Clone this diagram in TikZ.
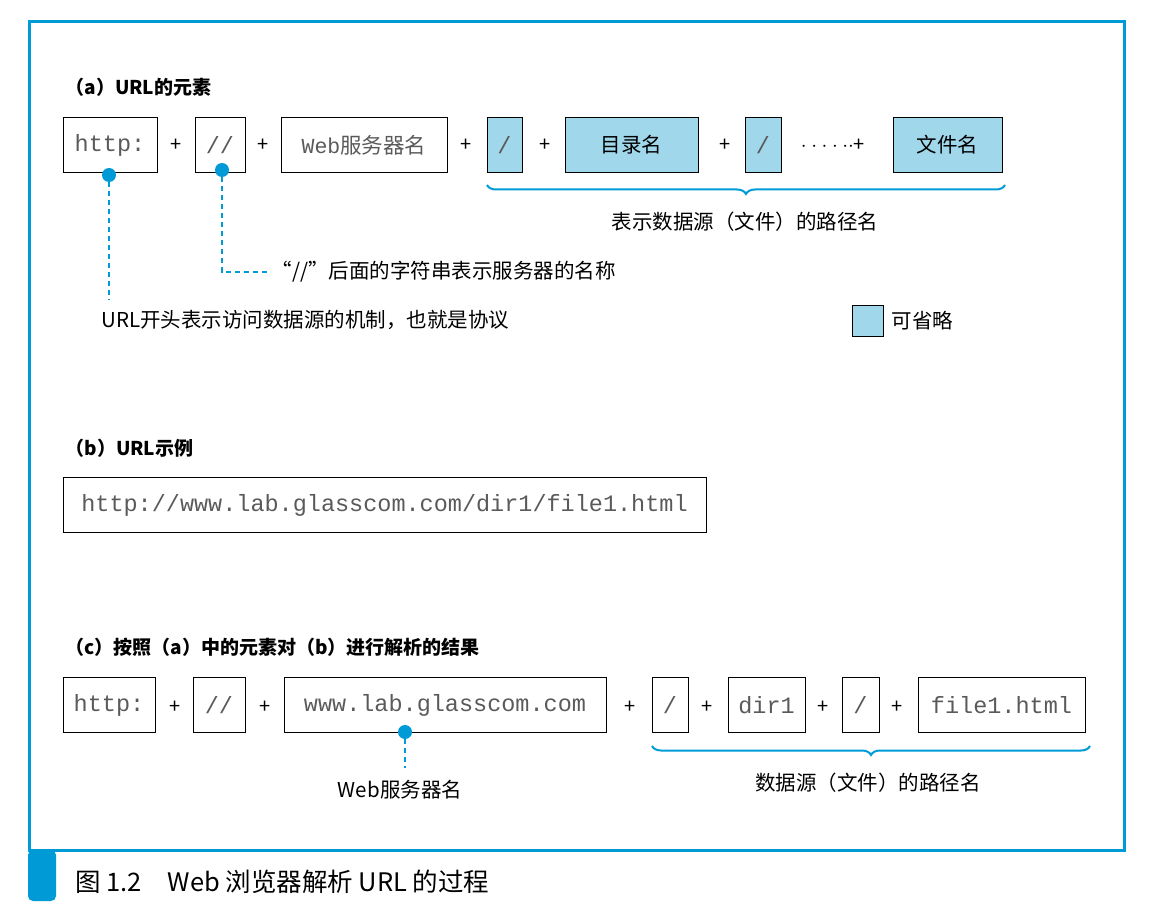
\documentclass[tikz,border=0pt]{standalone}
\usepackage{fontspec}
\setmainfont{Noto Sans CJK SC}
\setmonofont{Liberation Mono}
\usetikzlibrary{positioning,decorations.pathreplacing}
\definecolor{frameblue}{RGB}{0,155,215}
\definecolor{optfill}{RGB}{160,215,235}
\definecolor{monogray}{RGB}{90,90,90}
\tikzset{
  box/.style={draw, thick, inner sep=0pt, minimum height=55pt,
    font=\fontsize{23.5}{23.5}\selectfont\ttfamily\color{monogray}},
  opt/.style={box, fill=optfill},
  cjk/.style={font=\fontsize{20.5}{20.5}\selectfont},
  plus/.style={font=\fontsize{20}{20}\selectfont},
  title/.style={font=\fontsize{19}{19}\selectfont\bfseries, anchor=west},
  dot/.style={circle, fill=frameblue, inner sep=0pt, minimum size=14pt},
  lead/.style={frameblue, line width=2.5pt, dash pattern=on 5pt off 4pt},
  brc/.style={frameblue, line width=2pt, decorate,
    decoration={brace, mirror, amplitude=9pt}}
}
\begin{document}
\begin{tikzpicture}[x=1pt, y=-1pt]
\useasboundingbox (0,0) rectangle (1149,909);
\draw[frameblue, line width=3pt] (29,22) rectangle (1124,850);
\fill[frameblue, rounded corners=5pt] (28,850) rectangle (56,901);
\node[anchor=west, font=\fontsize{25.5}{25.5}\selectfont] (cap) at (72,882) {图 1.2\quad Web 浏览器解析 URL 的过程};

% (a)
\node[title] (ta) at (62,87) {（a）URL的元素};
\node[box, minimum width=94pt] (a1) at (110,145) {http:};
\node[plus] (ap1) at (176,145) {+};
\node[box, minimum width=50pt] (a2) at (220,145) {//};
\node[plus] (ap2) at (263,145) {+};
\node[box, minimum width=166pt, font=\fontsize{21.5}{21.5}\selectfont\color{monogray}] (a3) at (364,145) {\texttt{Web}服务器名};
\node[plus] (ap3) at (466,145) {+};
\node[opt, minimum width=35pt] (a4) at (504.5,145) {/};
\node[plus] (ap4) at (545,145) {+};
\node[opt, minimum width=133pt, cjk] (a5) at (631.5,145) {目录名};
\node[plus] (ap5) at (725,145) {+};
\node[opt, minimum width=36pt] (a6) at (763,145) {/};
\node[plus] (ap6) at (833,145) {$\cdot\cdot\cdot\cdot\cdot\cdot$+};
\node[opt, minimum width=109pt, cjk] (a7) at (947.5,145) {文件名};
\draw[brc] (487,185) -- (1005,185);
\node[cjk] (pa) at (745,222) {表示数据源（文件）的路径名};

\node[dot] (d1) at (109,175) {};
\coordinate (e1) at (109,300);
\draw[lead] (d1) -- (e1);
\node[cjk, anchor=west] (l1) at (98,320) {URL开头表示访问数据源的机制，也就是协议};
\node[dot] (d2) at (222,170) {};
\coordinate (e2) at (222,272);
\node[cjk, anchor=west] (l2) at (268,272) {“//”后面的字符串表示服务器的名称};
\draw[lead] (d2) -- (e2) -- (l2.west);
\node[opt, minimum width=31pt, minimum height=31pt] (lg) at (867.5,321) {};
\node[cjk, anchor=west] (lgt) at (888,321) {可省略};

% (b)
\node[title] (tb) at (62,448) {（b）URL示例};
\node[box, minimum width=643pt] (b1) at (384.5,505) {http://www.lab.glasscom.com/dir1/file1.html};

% (c)
\node[title] (tc) at (62,647) {（c）按照（a）中的元素对（b）进行解析的结果};
\node[box, minimum width=92pt] (c1) at (109,705) {http:};
\node[plus] (cp1) at (175,707) {+};
\node[box, minimum width=52pt] (c2) at (219,705) {//};
\node[plus] (cp2) at (265,707) {+};
\node[box, minimum width=322pt] (c3) at (445,705) {www.lab.glasscom.com};
\node[plus] (cp3) at (630,707) {+};
\node[box, minimum width=36pt] (c4) at (670,705) {/};
\node[plus] (cp4) at (707,707) {+};
\node[box, minimum width=77pt] (c5) at (766.5,705) {dir1};
\node[plus] (cp5) at (823,707) {+};
\node[box, minimum width=37pt] (c6) at (860.5,705) {/};
\node[plus] (cp6) at (897,707) {+};
\node[box, minimum width=167pt] (c7) at (1001.5,705) {file1.html};
\node[dot] (d3) at (405,732) {};
\coordinate (e3) at (405,768);
\draw[lead] (d3) -- (e3);
\node[cjk] (l3) at (400,790) {Web服务器名};
\draw[brc] (652,746) -- (1090,746);
\node[cjk] (pc) at (868,783) {数据源（文件）的路径名};
\end{tikzpicture}
\end{document}
